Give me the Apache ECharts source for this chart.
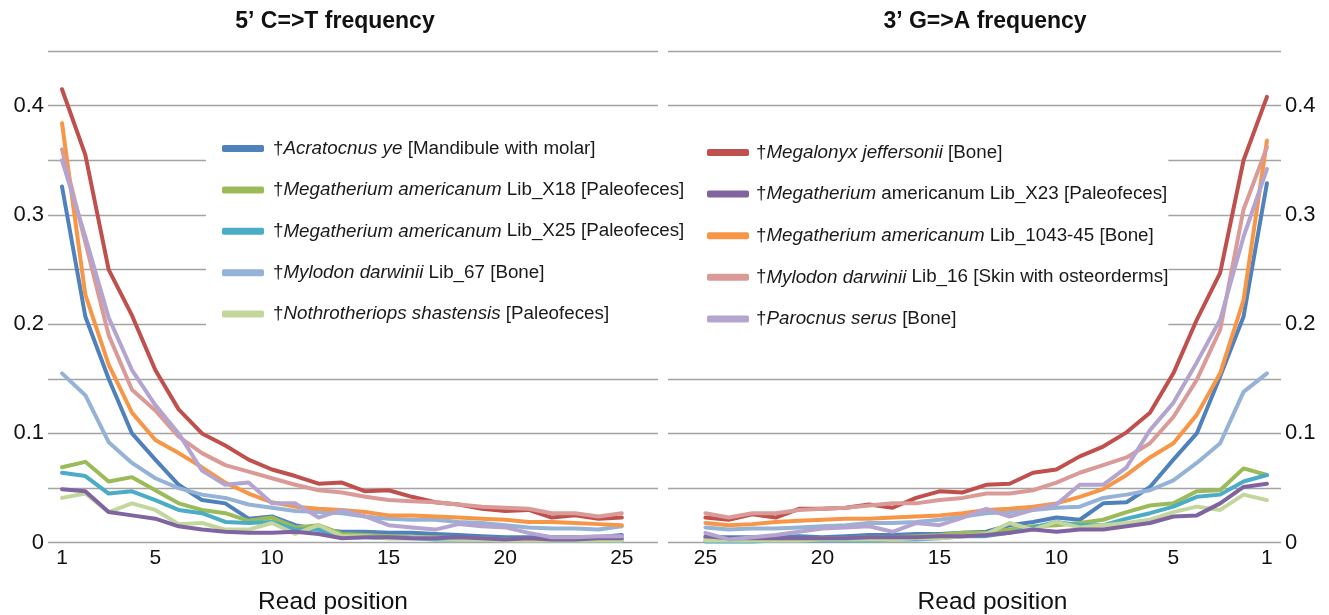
<!DOCTYPE html>
<html>
<head>
<meta charset="utf-8">
<title>C=>T / G=>A frequency</title>
<script src="https://cdn.jsdelivr.net/npm/echarts@6/dist/echarts.min.js"></script>
<style>
  html, body { margin: 0; padding: 0; background: #fff; }
  #main { width: 1329px; height: 615px; }
</style>
</head>
<body>
<div id="main"></div>
<script>
// read positions 1..25
var positions = [1,2,3,4,5,6,7,8,9,10,11,12,13,14,15,16,17,18,19,20,21,22,23,24,25];
var xTicks = [1, 5, 10, 15, 20, 25];

// species (legend text split into italic part and the rest)
var species = ['Acratocnus', 'MegX18', 'MegX25', 'Myl67', 'Nothro', 'Megalonyx', 'MegX23', 'Meg1043', 'Myl16', 'Parocnus'];
var italicPart = ['Acratocnus ye', 'Megatherium americanum', 'Megatherium americanum', 'Mylodon darwinii', 'Nothrotheriops shastensis',
                  'Megalonyx jeffersonii', 'Megatherium', 'Megatherium americanum', 'Mylodon darwinii', 'Parocnus serus'];
var restPart = [' [Mandibule with molar]', ' Lib_X18 [Paleofeces]', ' Lib_X25 [Paleofeces]', ' Lib_67 [Bone]', ' [Paleofeces]',
                ' [Bone]', ' americanum Lib_X23 [Paleofeces]', ' Lib_1043-45 [Bone]', ' Lib_16 [Skin with osteorderms]', ' [Bone]'];
var colors = ['#4F81BD', '#9BBB59', '#4BACC6', '#95B3D7', '#C3D69B', '#C0504D', '#8064A2', '#F79646', '#DA9A98', '#B3A5CF'];

// 5' C=>T frequency, position 1..25
var ct5 = {
  Acratocnus: [0.326,0.207,0.150,0.100,0.076,0.053,0.039,0.036,0.022,0.024,0.016,0.012,0.010,0.010,0.009,0.009,0.008,0.007,0.006,0.005,0.005,0.005,0.005,0.005,0.007],
  MegX18:     [0.069,0.074,0.056,0.060,0.048,0.036,0.030,0.027,0.020,0.023,0.014,0.016,0.008,0.007,0.006,0.005,0.005,0.004,0.004,0.003,0.003,0.003,0.002,0.002,0.002],
  MegX25:     [0.064,0.061,0.045,0.047,0.039,0.030,0.027,0.019,0.018,0.019,0.012,0.012,0.005,0.005,0.004,0.004,0.003,0.003,0.003,0.003,0.003,0.002,0.002,0.002,0.002],
  Myl67:      [0.155,0.135,0.092,0.073,0.059,0.050,0.044,0.041,0.035,0.032,0.029,0.028,0.027,0.024,0.022,0.021,0.021,0.019,0.018,0.016,0.014,0.013,0.013,0.012,0.015],
  Nothro:     [0.041,0.045,0.028,0.036,0.030,0.017,0.018,0.012,0.012,0.018,0.008,0.016,0.006,0.006,0.004,0.004,0.004,0.003,0.003,0.002,0.002,0.002,0.002,0.002,0.002],
  Megalonyx:  [0.415,0.355,0.250,0.208,0.158,0.122,0.100,0.089,0.076,0.067,0.061,0.054,0.055,0.047,0.048,0.042,0.037,0.035,0.031,0.029,0.030,0.023,0.025,0.022,0.023],
  MegX23:     [0.049,0.047,0.028,0.025,0.022,0.015,0.012,0.010,0.009,0.009,0.010,0.008,0.004,0.005,0.005,0.004,0.004,0.005,0.004,0.003,0.004,0.003,0.003,0.004,0.004],
  Meg1043:    [0.384,0.227,0.163,0.119,0.094,0.082,0.069,0.055,0.045,0.037,0.033,0.031,0.030,0.028,0.025,0.025,0.024,0.023,0.022,0.021,0.019,0.019,0.018,0.017,0.016],
  Myl16:      [0.360,0.275,0.190,0.140,0.121,0.097,0.082,0.071,0.065,0.059,0.053,0.048,0.046,0.042,0.039,0.038,0.037,0.035,0.033,0.032,0.031,0.027,0.027,0.024,0.027],
  Parocnus:   [0.350,0.280,0.206,0.158,0.126,0.100,0.066,0.053,0.055,0.036,0.036,0.023,0.030,0.024,0.016,0.014,0.012,0.017,0.015,0.014,0.009,0.005,0.005,0.006,0.006]
};

// 3' G=>A frequency, position 1..25 (axis runs 25 -> 1)
var ga3 = {
  Acratocnus: [0.329,0.207,0.152,0.100,0.076,0.051,0.037,0.036,0.021,0.023,0.019,0.016,0.010,0.009,0.008,0.008,0.007,0.007,0.006,0.005,0.006,0.005,0.005,0.005,0.005],
  MegX18:     [0.062,0.068,0.048,0.047,0.036,0.034,0.028,0.021,0.018,0.016,0.015,0.012,0.009,0.009,0.007,0.006,0.005,0.005,0.004,0.004,0.003,0.003,0.003,0.003,0.003],
  MegX25:     [0.062,0.056,0.044,0.042,0.033,0.027,0.022,0.016,0.016,0.019,0.014,0.009,0.006,0.006,0.004,0.003,0.003,0.002,0.002,0.002,0.002,0.002,0.001,0.001,0.001],
  Myl67:      [0.155,0.138,0.091,0.073,0.057,0.048,0.044,0.041,0.033,0.032,0.030,0.028,0.027,0.024,0.021,0.019,0.018,0.018,0.016,0.015,0.014,0.013,0.013,0.012,0.014],
  Nothro:     [0.039,0.044,0.030,0.033,0.028,0.021,0.018,0.016,0.014,0.019,0.012,0.018,0.008,0.006,0.004,0.004,0.003,0.003,0.003,0.003,0.002,0.002,0.002,0.002,0.002],
  Megalonyx:  [0.408,0.350,0.247,0.204,0.155,0.119,0.101,0.088,0.079,0.067,0.064,0.054,0.053,0.046,0.047,0.041,0.032,0.035,0.032,0.031,0.031,0.023,0.026,0.021,0.023],
  MegX23:     [0.054,0.051,0.036,0.025,0.024,0.018,0.015,0.012,0.012,0.010,0.012,0.009,0.007,0.006,0.006,0.005,0.005,0.005,0.004,0.004,0.004,0.004,0.004,0.004,0.006],
  Meg1043:    [0.368,0.222,0.155,0.117,0.091,0.078,0.062,0.049,0.042,0.036,0.033,0.031,0.030,0.027,0.025,0.024,0.023,0.022,0.022,0.021,0.020,0.019,0.017,0.016,0.018],
  Myl16:      [0.362,0.305,0.195,0.149,0.115,0.091,0.078,0.071,0.064,0.055,0.048,0.045,0.045,0.041,0.039,0.036,0.036,0.034,0.032,0.031,0.030,0.027,0.027,0.023,0.027],
  Parocnus:   [0.342,0.280,0.204,0.165,0.128,0.103,0.069,0.053,0.053,0.035,0.030,0.024,0.031,0.023,0.016,0.018,0.010,0.015,0.014,0.013,0.010,0.007,0.005,0.003,0.009]
};

var FONT = '"Liberation Sans", Arial, Helvetica, sans-serif';

function legendName(i){
  return '†' + italicPart[i] + restPart[i];
}
var allNames = [];
for (var k = 0; k < species.length; k++) allNames.push(legendName(k));
var leftLegend = allNames.slice(0, 5);
var rightLegend = allNames.slice(5, 10);

function fmtLegend(name){
  var i = allNames.indexOf(name);
  return '{n|†}{i|' + italicPart[i] + '}{n|' + restPart[i] + '}';
}
var legendRich = {
  n: {fontFamily: FONT, fontSize: 18.8, color: '#1a1a1a', lineHeight: 22},
  i: {fontFamily: FONT, fontSize: 18.8, color: '#1a1a1a', fontStyle: 'italic', lineHeight: 22}
};

function pairs(vals){
  var out = [];
  for (var k = 0; k < positions.length; k++) out.push([positions[k], vals[k]]);
  return out;
}

var series = [];
species.forEach(function(sp, i){
  [ct5, ga3].forEach(function(set, g){
    series.push({
      name: allNames[i],
      type: 'line',
      xAxisIndex: g,
      yAxisIndex: g,
      data: pairs(set[sp]),
      showSymbol: false,
      symbol: 'none',
      silent: true,
      lineStyle: {color: colors[i], width: 4, cap: 'round', join: 'round'},
      itemStyle: {color: colors[i]}
    });
  });
});

function yLabel(v){
  var t = Math.round(v * 100);
  if (t % 10 !== 0) return '';
  return t === 0 ? '0' : (t / 100).toString();
}

var yBase = {
  type: 'value', min: 0, max: 0.45, interval: 0.05,
  axisLine: {show: false}, axisTick: {show: false},
  splitLine: {show: true, lineStyle: {color: '#a3a3a3', width: 1.3}},
  axisLabel: {formatter: yLabel, fontFamily: FONT, fontSize: 22, color: '#111', margin: 4}
};
var xBase = {
  type: 'value', min: 0.4, max: 26.55,
  axisLine: {show: false}, axisTick: {show: false}, splitLine: {show: false},
  axisLabel: {customValues: xTicks, fontFamily: FONT, fontSize: 21, color: '#111', margin: 5},
  name: 'Read position', nameLocation: 'middle', nameGap: 47,
  nameTextStyle: {fontFamily: FONT, fontSize: 24.5, color: '#111'}
};

var chart = echarts.init(document.getElementById('main'), null, {renderer: 'canvas'});
chart.setOption({
  animation: false,
  backgroundColor: '#fff',
  graphic: [
    {type: 'text', x: 335, y: 22, style: {text: '5’ C=>T frequency', font: 'bold 23px ' + FONT, fill: '#111', align: 'center', verticalAlign: 'middle'}},
    {type: 'text', x: 985, y: 22, style: {text: '3’ G=>A frequency', font: 'bold 23px ' + FONT, fill: '#111', align: 'center', verticalAlign: 'middle'}}
  ],
  grid: [
    {left: 48, top: 51, width: 610, height: 491.7, outerBoundsMode: 'none', containLabel: false},
    {left: 668, top: 51, width: 613, height: 491.7, outerBoundsMode: 'none', containLabel: false}
  ],
  xAxis: [
    echarts.util.merge({gridIndex: 0, nameTextStyle: {padding: [0, 40, 0, 0]}}, xBase, false),
    echarts.util.merge({gridIndex: 1, inverse: true, max: 26.6, nameTextStyle: {padding: [0, 0, 0, 36]}}, xBase, false)
  ],
  yAxis: [
    echarts.util.merge({gridIndex: 0, position: 'left'}, yBase, false),
    echarts.util.merge({gridIndex: 1, position: 'right'}, yBase, false)
  ],
  legend: [
    {
      data: leftLegend, orient: 'vertical', left: 206, top: 121,
      padding: [18, 10, 15, 16], backgroundColor: '#fff',
      icon: 'roundRect', itemWidth: 42, itemHeight: 7, itemGap: 22.4,
      formatter: fmtLegend, textStyle: {rich: legendRich, padding: [0, 0, 0, 4]}, selectedMode: false
    },
    {
      data: rightLegend, orient: 'vertical', left: 660, top: 125,
      padding: [18, 0, 10, 47], backgroundColor: '#fff',
      icon: 'roundRect', itemWidth: 42, itemHeight: 7, itemGap: 22.6,
      formatter: fmtLegend, textStyle: {rich: legendRich, padding: [0, 0, 0, 2]}, selectedMode: false
    }
  ],
  series: series
});
</script>
</body>
</html>
